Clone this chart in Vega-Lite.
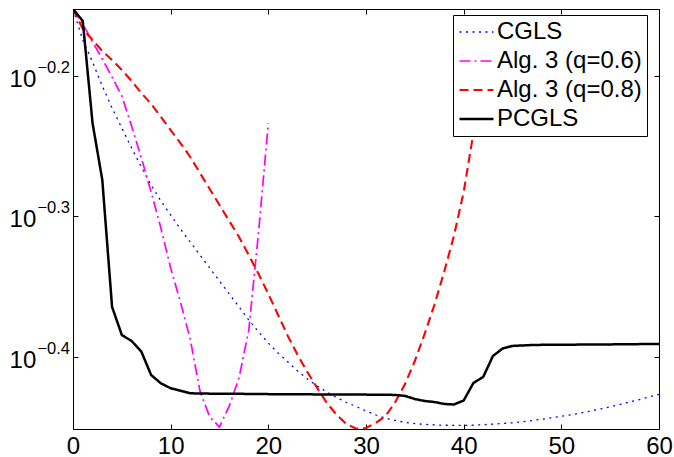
{
"$schema": "https://vega.github.io/schema/vega-lite/v6.json",
"width": 586, "height": 420,
"autosize": {"type": "none"},
"padding": {"left": 73, "top": 9, "right": 15, "bottom": 28},
"background": "white",
"config": {
 "font": "Liberation Sans",
 "view": {"stroke": "#000000", "strokeWidth": 1},
 "axis": {"domain": false, "grid": false, "title": null, "tickColor": "#000000", "tickSize": -5, "tickWidth": 1, "labelColor": "#000000", "labelFont": "Liberation Sans", "labelFontSize": 24, "labelFlush": false, "labelOverlap": false}
},
"data": {"values": [
{"series":"CGLS","iter":0,"value":0.7042},{"series":"CGLS","iter":1,"value":0.6693},{"series":"CGLS","iter":2,"value":0.6456},{"series":"CGLS","iter":3,"value":0.6207},{"series":"CGLS","iter":4,"value":0.5987},{"series":"CGLS","iter":5,"value":0.5794},{"series":"CGLS","iter":6,"value":0.5607},{"series":"CGLS","iter":7,"value":0.5435},{"series":"CGLS","iter":8,"value":0.5277},{"series":"CGLS","iter":9,"value":0.5141},{"series":"CGLS","iter":10,"value":0.5024},{"series":"CGLS","iter":11,"value":0.4910},{"series":"CGLS","iter":12,"value":0.4807},{"series":"CGLS","iter":13,"value":0.4705},{"series":"CGLS","iter":14,"value":0.4606},{"series":"CGLS","iter":15,"value":0.4509},{"series":"CGLS","iter":16,"value":0.4414},{"series":"CGLS","iter":17,"value":0.4322},{"series":"CGLS","iter":18,"value":0.4230},{"series":"CGLS","iter":19,"value":0.4148},{"series":"CGLS","iter":20,"value":0.4073},{"series":"CGLS","iter":21,"value":0.4007},{"series":"CGLS","iter":22,"value":0.3949},{"series":"CGLS","iter":23,"value":0.3891},{"series":"CGLS","iter":24,"value":0.3840},{"series":"CGLS","iter":25,"value":0.3796},{"series":"CGLS","iter":26,"value":0.3759},{"series":"CGLS","iter":27,"value":0.3725},{"series":"CGLS","iter":28,"value":0.3695},{"series":"CGLS","iter":29,"value":0.3671},{"series":"CGLS","iter":30,"value":0.3644},{"series":"CGLS","iter":31,"value":0.3620},{"series":"CGLS","iter":32,"value":0.3602},{"series":"CGLS","iter":33,"value":0.3588},{"series":"CGLS","iter":34,"value":0.3576},{"series":"CGLS","iter":35,"value":0.3569},{"series":"CGLS","iter":36,"value":0.3565},{"series":"CGLS","iter":37,"value":0.3562},{"series":"CGLS","iter":38,"value":0.3560},{"series":"CGLS","iter":39,"value":0.3559},{"series":"CGLS","iter":40,"value":0.3559},{"series":"CGLS","iter":41,"value":0.3560},{"series":"CGLS","iter":42,"value":0.3563},{"series":"CGLS","iter":43,"value":0.3566},{"series":"CGLS","iter":44,"value":0.3570},{"series":"CGLS","iter":45,"value":0.3574},{"series":"CGLS","iter":46,"value":0.3580},{"series":"CGLS","iter":47,"value":0.3587},{"series":"CGLS","iter":48,"value":0.3595},{"series":"CGLS","iter":49,"value":0.3603},{"series":"CGLS","iter":50,"value":0.3612},{"series":"CGLS","iter":51,"value":0.3621},{"series":"CGLS","iter":52,"value":0.3632},{"series":"CGLS","iter":53,"value":0.3644},{"series":"CGLS","iter":54,"value":0.3656},{"series":"CGLS","iter":55,"value":0.3669},{"series":"CGLS","iter":56,"value":0.3683},{"series":"CGLS","iter":57,"value":0.3698},{"series":"CGLS","iter":58,"value":0.3713},{"series":"CGLS","iter":59,"value":0.3729},{"series":"CGLS","iter":60,"value":0.3745},
{"series":"Alg. 3 (q=0.6)","iter":0,"value":0.7042},{"series":"Alg. 3 (q=0.6)","iter":1,"value":0.6871},{"series":"Alg. 3 (q=0.6)","iter":2,"value":0.6671},{"series":"Alg. 3 (q=0.6)","iter":3,"value":0.6488},{"series":"Alg. 3 (q=0.6)","iter":4,"value":0.6299},{"series":"Alg. 3 (q=0.6)","iter":5,"value":0.6106},{"series":"Alg. 3 (q=0.6)","iter":6,"value":0.5813},{"series":"Alg. 3 (q=0.6)","iter":7,"value":0.5516},{"series":"Alg. 3 (q=0.6)","iter":8,"value":0.5217},{"series":"Alg. 3 (q=0.6)","iter":9,"value":0.4918},{"series":"Alg. 3 (q=0.6)","iter":10,"value":0.4606},{"series":"Alg. 3 (q=0.6)","iter":11,"value":0.4357},{"series":"Alg. 3 (q=0.6)","iter":12,"value":0.4100},{"series":"Alg. 3 (q=0.6)","iter":13,"value":0.3765},{"series":"Alg. 3 (q=0.6)","iter":14,"value":0.3608},{"series":"Alg. 3 (q=0.6)","iter":15,"value":0.3550},{"series":"Alg. 3 (q=0.6)","iter":16,"value":0.3674},{"series":"Alg. 3 (q=0.6)","iter":17,"value":0.3846},{"series":"Alg. 3 (q=0.6)","iter":18,"value":0.4161},{"series":"Alg. 3 (q=0.6)","iter":19,"value":0.4886},{"series":"Alg. 3 (q=0.6)","iter":20,"value":0.5842},
{"series":"Alg. 3 (q=0.8)","iter":0,"value":0.7042},{"series":"Alg. 3 (q=0.8)","iter":1,"value":0.6815},{"series":"Alg. 3 (q=0.8)","iter":2,"value":0.6693},{"series":"Alg. 3 (q=0.8)","iter":3,"value":0.6573},{"series":"Alg. 3 (q=0.8)","iter":4,"value":0.6477},{"series":"Alg. 3 (q=0.8)","iter":5,"value":0.6372},{"series":"Alg. 3 (q=0.8)","iter":6,"value":0.6258},{"series":"Alg. 3 (q=0.8)","iter":7,"value":0.6136},{"series":"Alg. 3 (q=0.8)","iter":8,"value":0.6027},{"series":"Alg. 3 (q=0.8)","iter":9,"value":0.5900},{"series":"Alg. 3 (q=0.8)","iter":10,"value":0.5775},{"series":"Alg. 3 (q=0.8)","iter":11,"value":0.5653},{"series":"Alg. 3 (q=0.8)","iter":12,"value":0.5525},{"series":"Alg. 3 (q=0.8)","iter":13,"value":0.5382},{"series":"Alg. 3 (q=0.8)","iter":14,"value":0.5243},{"series":"Alg. 3 (q=0.8)","iter":15,"value":0.5107},{"series":"Alg. 3 (q=0.8)","iter":16,"value":0.4975},{"series":"Alg. 3 (q=0.8)","iter":17,"value":0.4846},{"series":"Alg. 3 (q=0.8)","iter":18,"value":0.4705},{"series":"Alg. 3 (q=0.8)","iter":19,"value":0.4561},{"series":"Alg. 3 (q=0.8)","iter":20,"value":0.4414},{"series":"Alg. 3 (q=0.8)","iter":21,"value":0.4265},{"series":"Alg. 3 (q=0.8)","iter":22,"value":0.4120},{"series":"Alg. 3 (q=0.8)","iter":23,"value":0.3994},{"series":"Alg. 3 (q=0.8)","iter":24,"value":0.3884},{"series":"Alg. 3 (q=0.8)","iter":25,"value":0.3784},{"series":"Alg. 3 (q=0.8)","iter":26,"value":0.3692},{"series":"Alg. 3 (q=0.8)","iter":27,"value":0.3620},{"series":"Alg. 3 (q=0.8)","iter":28,"value":0.3567},{"series":"Alg. 3 (q=0.8)","iter":29,"value":0.3539},{"series":"Alg. 3 (q=0.8)","iter":30,"value":0.3544},{"series":"Alg. 3 (q=0.8)","iter":31,"value":0.3573},{"series":"Alg. 3 (q=0.8)","iter":32,"value":0.3614},{"series":"Alg. 3 (q=0.8)","iter":33,"value":0.3698},{"series":"Alg. 3 (q=0.8)","iter":34,"value":0.3809},{"series":"Alg. 3 (q=0.8)","iter":35,"value":0.3955},{"series":"Alg. 3 (q=0.8)","iter":36,"value":0.4134},{"series":"Alg. 3 (q=0.8)","iter":37,"value":0.4335},{"series":"Alg. 3 (q=0.8)","iter":38,"value":0.4576},{"series":"Alg. 3 (q=0.8)","iter":39,"value":0.4854},{"series":"Alg. 3 (q=0.8)","iter":40,"value":0.5217},{"series":"Alg. 3 (q=0.8)","iter":41,"value":0.5747},{"series":"Alg. 3 (q=0.8)","iter":42,"value":0.6477},
{"series":"PCGLS","iter":0,"value":0.7042},{"series":"PCGLS","iter":1,"value":0.6905},{"series":"PCGLS","iter":2,"value":0.5842},{"series":"PCGLS","iter":3,"value":0.5321},{"series":"PCGLS","iter":4,"value":0.4322},{"series":"PCGLS","iter":5,"value":0.4127},{"series":"PCGLS","iter":6,"value":0.4087},{"series":"PCGLS","iter":7,"value":0.4016},{"series":"PCGLS","iter":8,"value":0.3865},{"series":"PCGLS","iter":9,"value":0.3813},{"series":"PCGLS","iter":10,"value":0.3782},{"series":"PCGLS","iter":11,"value":0.3767},{"series":"PCGLS","iter":12,"value":0.3751},{"series":"PCGLS","iter":13,"value":0.3750},{"series":"PCGLS","iter":14,"value":0.3749},{"series":"PCGLS","iter":15,"value":0.3749},{"series":"PCGLS","iter":16,"value":0.3748},{"series":"PCGLS","iter":17,"value":0.3748},{"series":"PCGLS","iter":18,"value":0.3747},{"series":"PCGLS","iter":19,"value":0.3747},{"series":"PCGLS","iter":20,"value":0.3746},{"series":"PCGLS","iter":21,"value":0.3746},{"series":"PCGLS","iter":22,"value":0.3745},{"series":"PCGLS","iter":23,"value":0.3745},{"series":"PCGLS","iter":24,"value":0.3745},{"series":"PCGLS","iter":25,"value":0.3744},{"series":"PCGLS","iter":26,"value":0.3744},{"series":"PCGLS","iter":27,"value":0.3744},{"series":"PCGLS","iter":28,"value":0.3743},{"series":"PCGLS","iter":29,"value":0.3743},{"series":"PCGLS","iter":30,"value":0.3743},{"series":"PCGLS","iter":31,"value":0.3742},{"series":"PCGLS","iter":32,"value":0.3742},{"series":"PCGLS","iter":33,"value":0.3741},{"series":"PCGLS","iter":34,"value":0.3735},{"series":"PCGLS","iter":35,"value":0.3716},{"series":"PCGLS","iter":36,"value":0.3704},{"series":"PCGLS","iter":37,"value":0.3698},{"series":"PCGLS","iter":38,"value":0.3686},{"series":"PCGLS","iter":39,"value":0.3683},{"series":"PCGLS","iter":40,"value":0.3707},{"series":"PCGLS","iter":41,"value":0.3815},{"series":"PCGLS","iter":42,"value":0.3853},{"series":"PCGLS","iter":43,"value":0.3988},{"series":"PCGLS","iter":44,"value":0.4037},{"series":"PCGLS","iter":45,"value":0.4054},{"series":"PCGLS","iter":46,"value":0.4057},{"series":"PCGLS","iter":47,"value":0.4060},{"series":"PCGLS","iter":48,"value":0.4061},{"series":"PCGLS","iter":49,"value":0.4061},{"series":"PCGLS","iter":50,"value":0.4062},{"series":"PCGLS","iter":51,"value":0.4062},{"series":"PCGLS","iter":52,"value":0.4063},{"series":"PCGLS","iter":53,"value":0.4063},{"series":"PCGLS","iter":54,"value":0.4064},{"series":"PCGLS","iter":55,"value":0.4064},{"series":"PCGLS","iter":56,"value":0.4065},{"series":"PCGLS","iter":57,"value":0.4065},{"series":"PCGLS","iter":58,"value":0.4066},{"series":"PCGLS","iter":59,"value":0.4066},{"series":"PCGLS","iter":60,"value":0.4067}
]},
"layer": [
 {
  "mark": {"type": "line", "clip": true},
  "encoding": {
   "x": {"field": "iter", "type": "quantitative", "scale": {"domain": [0, 60], "nice": false, "zero": false},
         "axis": {"orient": "bottom", "values": [0, 10, 20, 30, 40, 50, 60], "labelPadding": 10}},
   "y": {"field": "value", "type": "quantitative", "scale": {"type": "log", "domain": [0.35379, 0.70419], "nice": false},
         "axis": {"orient": "left", "values": [0.398107, 0.501187, 0.630957], "labelExpr": "'10'", "labelBaseline": "alphabetic", "labelAlign": "right", "labelOffset": 10.5, "labelPadding": 42.2}},
   "color": {"field": "series", "type": "nominal",
     "scale": {"domain": ["CGLS", "Alg. 3 (q=0.6)", "Alg. 3 (q=0.8)", "PCGLS"], "range": ["#0000ff", "#ff00ff", "#ff0000", "#000000"]},
     "legend": {"title": null, "orient": "none", "legendX": 380, "legendY": 6, "fillColor": "#ffffff", "strokeColor": "#000000", "padding": 5, "rowPadding": 5, "clipHeight": 24, "labelFontSize": 24, "labelFont": "Liberation Sans", "labelColor": "#000000", "labelOffset": 2, "labelLimit": 300, "symbolType": "stroke", "symbolSize": 1156, "symbolStrokeWidth": 2, "cornerRadius": 0}},
   "strokeDash": {"field": "series", "type": "nominal",
     "scale": {"domain": ["CGLS", "Alg. 3 (q=0.6)", "Alg. 3 (q=0.8)", "PCGLS"], "range": [[2, 4.5], [11, 4, 2, 4], [9, 5], [1, 0]]},
     "legend": {"title": null, "orient": "none", "legendX": 380, "legendY": 6, "fillColor": "#ffffff", "strokeColor": "#000000", "padding": 5, "rowPadding": 5, "clipHeight": 24, "labelFontSize": 24, "labelFont": "Liberation Sans", "labelColor": "#000000", "labelOffset": 2, "labelLimit": 300, "symbolType": "stroke", "symbolSize": 1156, "symbolStrokeWidth": 2, "cornerRadius": 0}},
   "strokeWidth": {"field": "series", "type": "nominal",
     "scale": {"domain": ["CGLS", "Alg. 3 (q=0.6)", "Alg. 3 (q=0.8)", "PCGLS"], "range": [1.3, 2.5, 2.5, 2.3]}, "legend": null}
  }
 },
 {
  "mark": {"type": "point", "opacity": 0},
  "encoding": {
   "x": {"field": "iter", "type": "quantitative", "scale": {"domain": [0, 60], "nice": false, "zero": false},
         "axis": {"orient": "top", "values": [0, 10, 20, 30, 40, 50, 60], "labels": false}},
   "y": {"field": "value", "type": "quantitative", "scale": {"type": "log", "domain": [0.35379, 0.70419], "nice": false},
         "axis": {"orient": "left", "values": [0.398107, 0.501187, 0.630957], "ticks": false, "tickSize": 0, "labelExpr": "datum.value > 0.6 ? '−0.2' : (datum.value > 0.45 ? '−0.3' : '−0.4')", "labelFontSize": 16.5, "labelBaseline": "alphabetic", "labelAlign": "right", "labelOffset": -3.5, "labelPadding": 3.5}}
  }
 },
 {
  "mark": {"type": "point", "opacity": 0},
  "encoding": {
   "x": {"field": "iter", "type": "quantitative", "scale": {"domain": [0, 60], "nice": false, "zero": false}, "axis": null},
   "y": {"field": "value", "type": "quantitative", "scale": {"type": "log", "domain": [0.35379, 0.70419], "nice": false},
         "axis": {"orient": "right", "values": [0.398107, 0.501187, 0.630957], "labels": false}}
  }
 }
],
"resolve": {"axis": {"x": "independent", "y": "independent"}}
}
